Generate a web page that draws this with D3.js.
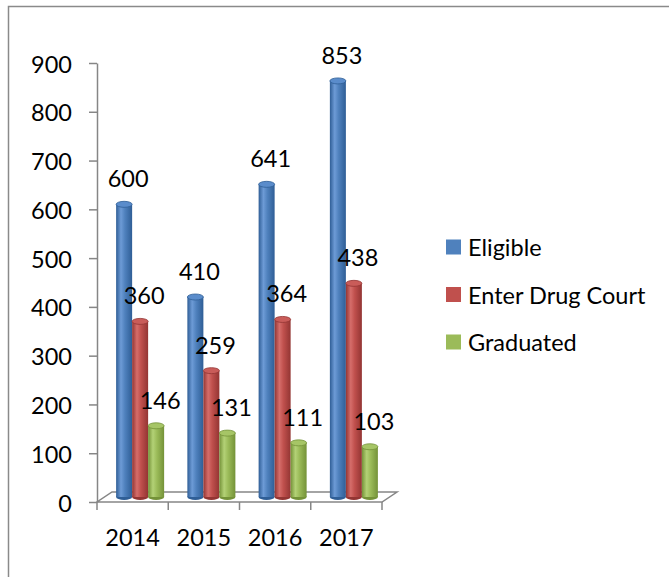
<!DOCTYPE html>
<html>
<head>
<meta charset="utf-8">
<script src="https://cdn.jsdelivr.net/npm/d3@7"></script>
<style>
  html, body { margin: 0; padding: 0; background: #fff; }
  svg { display: block; }
  text { font-family: Lato, "Open Sans", sans-serif; fill: #000; }
</style>
</head>
<body>
<svg id="chart" width="669" height="577"></svg>
<script>
// Drug court participants by year
const years = ["2014", "2015", "2016", "2017"];
const seriesNames = ["Eligible", "Enter Drug Court", "Graduated"];
const eligible = [600, 410, 641, 853];
const enterDrugCourt = [360, 259, 364, 438];
const graduated = [146, 131, 111, 103];
const yTicks = [0, 100, 200, 300, 400, 500, 600, 700, 800, 900];

const seriesValues = [eligible, enterDrugCourt, graduated];
const palette = [
  { base: "#4f81bd", light: "#6d9bd6", dark: "#2f5e96", top: "#5a8ccb" },
  { base: "#c0504d", light: "#d56d6a", dark: "#933533", top: "#c95c59" },
  { base: "#9bbb59", light: "#b3d176", dark: "#749238", top: "#a6c566" }
];

const svg = d3.select("#chart");
const fontSize = 23.5;
const axisGrey = "#868686";

// outer chart frame
svg.append("rect")
  .attr("x", 8.5).attr("y", 6.5)
  .attr("width", 700).attr("height", 620)
  .attr("fill", "none").attr("stroke", "#8a8a8a").attr("stroke-width", 1.5);

// plot geometry
const plot = { left: 97, right: 382, top: 63, bottom: 502 };
const depth = { dx: 15, dy: -10 };

const x = d3.scaleBand().domain(years).range([plot.left, plot.right]).padding(0);
const y = d3.scaleLinear().domain([0, 900]).range([plot.bottom, plot.top]);
const groupWidth = 48;
const xSub = d3.scaleBand().domain(seriesNames).range([0, groupWidth]).padding(0);

// gradients for the cylinder bodies
const defs = svg.append("defs");
palette.forEach((p, i) => {
  const g = defs.append("linearGradient").attr("id", "cyl" + i)
    .attr("x1", "0%").attr("x2", "100%").attr("y1", "0%").attr("y2", "0%");
  g.append("stop").attr("offset", "0%").attr("stop-color", p.dark);
  g.append("stop").attr("offset", "30%").attr("stop-color", p.light);
  g.append("stop").attr("offset", "55%").attr("stop-color", p.base);
  g.append("stop").attr("offset", "100%").attr("stop-color", p.dark);
});

// floor of the 3D plot
const floorPts = [
  [plot.left, plot.bottom],
  [plot.right, plot.bottom],
  [plot.right + depth.dx, plot.bottom + depth.dy],
  [plot.left + depth.dx, plot.bottom + depth.dy]
];
svg.append("polygon")
  .attr("points", floorPts.map(p => p.join(",")).join(" "))
  .attr("fill", "none").attr("stroke", axisGrey).attr("stroke-width", 1.5);

// category tick marks at band boundaries
const boundaries = years.map(c => x(c)).concat([x(years[years.length - 1]) + x.bandwidth()]);
svg.append("g").selectAll("line").data(boundaries).join("line")
  .attr("x1", d => d).attr("x2", d => d)
  .attr("y1", plot.bottom).attr("y2", plot.bottom + 8)
  .attr("stroke", axisGrey).attr("stroke-width", 1.5);

// category labels
svg.append("g").selectAll("text").data(years).join("text")
  .attr("x", d => x(d) + x.bandwidth() / 2)
  .attr("y", 537)
  .attr("text-anchor", "middle")
  .attr("dominant-baseline", "central")
  .style("font-size", fontSize + "px")
  .text(d => d);

// value axis
const yAxis = d3.axisLeft(y).tickValues(yTicks).tickSize(8).tickSizeOuter(0).tickPadding(17);
const yg = svg.append("g").attr("transform", `translate(${plot.left},0)`).call(yAxis);
yg.select(".domain").attr("stroke", axisGrey).attr("stroke-width", 1.5);
yg.selectAll(".tick line").attr("stroke", axisGrey).attr("stroke-width", 1.5);
yg.selectAll(".tick text")
  .attr("dy", null).attr("dominant-baseline", "central")
  .attr("font-family", null).attr("font-size", null)
  .style("font-size", fontSize + "px");

// cylinders: bars sit mid-way in the floor depth
const midDx = depth.dx / 2, midDy = depth.dy / 2;
const ry = 3;
const bars = [];
years.forEach((yr, ci) => {
  seriesNames.forEach((s, si) => {
    const v = seriesValues[si][ci];
    const left = x(yr) + x.bandwidth() / 2 - groupWidth / 2 + midDx + xSub(s);
    bars.push({ yr, s, si, v, left, w: xSub.bandwidth(),
      yTop: y(v) + midDy, yBase: y(0) + midDy });
  });
});

const barG = svg.append("g");
bars.forEach(b => {
  const g = barG.append("g");
  const cx = b.left + b.w / 2;
  const rx = b.w / 2;
  // bottom cap
  g.append("ellipse").attr("cx", cx).attr("cy", b.yBase).attr("rx", rx).attr("ry", ry)
    .attr("fill", palette[b.si].dark);
  // body
  g.append("rect").attr("x", b.left).attr("y", b.yTop)
    .attr("width", b.w).attr("height", b.yBase - b.yTop)
    .attr("fill", `url(#cyl${b.si})`);
  // top cap
  g.append("ellipse").attr("cx", cx).attr("cy", b.yTop).attr("rx", rx).attr("ry", ry)
    .attr("fill", palette[b.si].top).attr("stroke", palette[b.si].dark).attr("stroke-width", 0.8);
});

// value labels above each cylinder
svg.append("g").selectAll("text").data(bars).join("text")
  .attr("x", d => d.left + d.w / 2 + 4)
  .attr("y", d => d.yTop - 26)
  .attr("text-anchor", "middle")
  .attr("dominant-baseline", "central")
  .style("font-size", fontSize + "px")
  .text(d => d.v);

// legend
const legend = svg.append("g").attr("transform", "translate(446,247)");
const items = legend.selectAll("g").data(seriesNames).join("g")
  .attr("transform", (d, i) => `translate(0,${i * 47.5})`);
items.append("rect").attr("x", 0).attr("y", -7.5).attr("width", 15).attr("height", 15)
  .attr("fill", (d, i) => palette[i].base);
items.append("text").attr("x", 22).attr("y", 0)
  .attr("dominant-baseline", "central")
  .style("font-size", fontSize + "px")
  .text(d => d);
</script>
</body>
</html>
